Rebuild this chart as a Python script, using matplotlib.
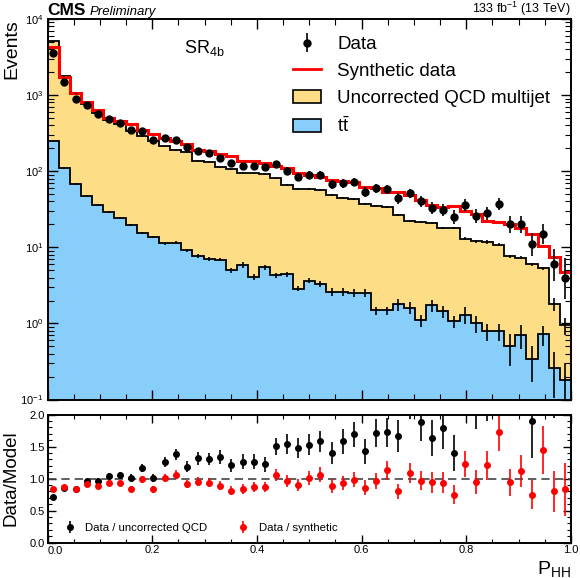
import numpy as np
import matplotlib
matplotlib.use("Agg")
import matplotlib.pyplot as plt
from matplotlib.ticker import LogLocator, MultipleLocator, NullFormatter
from matplotlib.lines import Line2D
from matplotlib.patches import Patch

plt.rcParams['font.family'] = ['Liberation Sans', 'DejaVu Sans']
plt.rcParams['mathtext.fontset'] = 'custom'
plt.rcParams['mathtext.rm'] = 'Liberation Sans'
plt.rcParams['mathtext.it'] = 'Liberation Sans:italic'
plt.rcParams['mathtext.bf'] = 'Liberation Sans:bold'

# 47 uniform bins in P_HH
n_bins = 47
edges = np.linspace(0.0, 1.0, n_bins + 1)
centers = 0.5 * (edges[:-1] + edges[1:])

# events per bin
data = [3600, 1483, 885, 738, 567, 489, 433, 347, 340, 257,
        272, 261, 207, 185, 176, 150, 129, 118, 118, 112,
        124, 102, 84, 90, 90, 67, 69, 72, 53, 60,
        58, 44, 51, 40, 33, 31, 25, 36, 26, 28,
        37, 20, 20, 11, 15, 6, 4]
synthetic = [4350, 1725, 1060, 805, 630, 505, 460, 412, 352, 307,
             270, 252, 227, 192, 184, 167, 160, 138, 136, 130,
             116, 110, 94, 89, 85, 76, 74.5, 73, 62.5, 61,
             53, 53, 48.5, 42, 36, 34, 34.5, 30, 27.8, 22.5,
             21.5, 20.5, 18.2, 15.1, 10.5, 7.4, 4.8]
# top of the stack: uncorrected QCD multijet + ttbar
uncorr_total = [5100, 1760, 1053, 770, 586, 468, 417, 337, 288, 248,
                212, 189, 177, 138, 134, 112, 106, 95, 94, 92,
                81, 66, 58, 59, 56, 48.5, 44, 43.5, 37.6, 34.5,
                34, 26.3, 22.5, 21.5, 20.8, 17.7, 18, 13, 12, 11.8,
                10.8, 7.6, 7.3, 6.0, 5.3, 1.8, 0.95]
ttbar = [248, 110, 67, 47, 36.5, 29.5, 24.4, 19.5, 15.6, 13.7,
         11.3, 11.5, 9.1, 7.7, 7.0, 6.9, 5.0, 5.9, 4.07, 5.5,
         4.3, 4.45, 2.86, 3.65, 3.3, 2.57, 2.57, 2.5, 2.5, 1.48,
         1.48, 1.8, 1.6, 1.1, 1.73, 1.45, 1.07, 1.3, 1.0, 0.79,
         0.79, 0.5, 0.71, 0.34, 0.72, 0.26, 0.18]
ttbar_relerr = [0.03] * 10 + [0.05] * 6 + [0.08] * 9 + [0.12] * 6 + [0.18] * 6 \
    + [0.25] * 4 + [0.45, 0.35, 0.5, 0.3, 0.6, 0.7]
total_relerr = [0.015] * 21 + [0.03] * 16 + [0.05] * 8 + [0.2, 0.25]

# ratio panel
ratio_uncorr = [0.715, 0.85, 0.84, 0.966, 0.966, 1.044, 1.055, 1.013, 1.164, 1.003,
                1.264, 1.379, 1.19, 1.316, 1.305, 1.337, 1.206, 1.264, 1.264, 1.222,
                1.504, 1.54, 1.478, 1.53, 1.582, 1.40, 1.582, 1.692, 1.426, 1.713,
                1.723, 1.66, 2.25, 1.88, 1.634, 1.79, 1.40, 2.8, 2.2, 2.35,
                3.4, 2.6, 2.7, 1.895, 2.8, 3.3, 4.2]
ratio_synth = [0.84, 0.867, 0.84, 0.919, 0.882, 0.94, 0.93, 0.846, 0.992, 0.835,
               1.008, 1.065, 0.919, 0.95, 0.935, 0.893, 0.815, 0.846, 0.867, 0.867,
               1.055, 0.966, 0.903, 1.008, 1.065, 0.888, 0.93, 0.982, 0.856, 0.971,
               1.133, 0.80, 1.086, 0.971, 0.945, 0.94, 0.747, 1.227, 0.945, 1.206,
               1.723, 0.945, 1.117, 0.747, 1.452, 0.80, 0.835]

data = np.array(data, dtype=float)
ttbar = np.array(ttbar)
uncorr_total = np.array(uncorr_total)
ttbar_relerr = np.array(ttbar_relerr)
total_relerr = np.array(total_relerr)
ratio_uncorr = np.array(ratio_uncorr)
ratio_synth = np.array(ratio_synth)

# Poisson (Garwood-like) intervals for data
lo = data * (1 - 1 / (9 * data) - 1 / (3 * np.sqrt(data))) ** 3
hi = (data + 1) * (1 - 1 / (9 * (data + 1)) + 1 / (3 * np.sqrt(data + 1))) ** 3
data_err = [data - lo, hi - data]

yellow = '#FDDD85'
blue = '#87CEFA'

fig = plt.figure(figsize=(5.8, 5.78), dpi=100)
ax = fig.add_axes([0.0822, 0.3088, 0.9022, 0.6583])
rax = fig.add_axes([0.0822, 0.0611, 0.9022, 0.2215])

# stacked histograms
ax.stairs(uncorr_total, edges, baseline=ttbar, fill=True, color=yellow, lw=0)
ax.stairs(ttbar, edges, baseline=1e-3, fill=True, color=blue, lw=0)
ax.stairs(uncorr_total, edges, baseline=None, color='k', lw=1.3)
ax.stairs(ttbar, edges, baseline=None, color='k', lw=1.3)
ax.vlines(centers, uncorr_total * (1 - total_relerr), uncorr_total * (1 + total_relerr),
          color='k', lw=1.2)
ax.vlines(centers, ttbar * (1 - ttbar_relerr), ttbar * (1 + ttbar_relerr), color='k', lw=1.2)
ax.stairs(synthetic, edges, baseline=None, color='red', lw=2.2)
h_data = ax.errorbar(centers, data, yerr=data_err, fmt='o', color='k', ms=5, lw=1.2,
                     capsize=0)

ax.set_yscale('log')
ax.set_xlim(0, 1)
ax.set_ylim(0.1, 1e4)
ax.yaxis.set_major_locator(LogLocator(base=10, numticks=10))
ax.yaxis.set_minor_locator(LogLocator(base=10, subs=np.arange(2, 10), numticks=20))
ax.yaxis.set_minor_formatter(NullFormatter())
ax.xaxis.set_major_locator(MultipleLocator(0.2))
ax.xaxis.set_minor_locator(MultipleLocator(0.05))
ax.tick_params(labelbottom=False)
ax.set_ylabel('Events', fontsize=14, loc='top')
ax.yaxis.set_label_coords(-0.053, 1.0)

ax.text(0.26, 0.925, r'SR$_{\mathrm{4b}}$', transform=ax.transAxes, fontsize=13,
        ha='left', va='center')

handles = [h_data,
           Line2D([], [], color='red', lw=2),
           Patch(facecolor=yellow, edgecolor='k', lw=1.2),
           Patch(facecolor=blue, edgecolor='k', lw=1.2)]
labels = ['Data', 'Synthetic data', 'Uncorrected QCD multijet', r'$\mathrm{t\bar{t}}$']
ax.legend(handles, labels, loc='upper left', bbox_to_anchor=(0.455, 0.975), frameon=False,
          fontsize=13.5, handlelength=1.5, handleheight=0.7, handletextpad=0.85,
          labelspacing=0.52, borderaxespad=0)

# ratio panel
rax.axhline(1.0, color='#444444', lw=1.2, ls=(0, (5, 3)))
r_err_u = ratio_uncorr / np.sqrt(data)
r_err_s = ratio_synth / np.sqrt(data)
h_u = rax.errorbar(centers, ratio_uncorr, yerr=r_err_u, fmt='o', color='k', ms=4, lw=1.2,
                   capsize=0)
h_s = rax.errorbar(centers, ratio_synth, yerr=r_err_s, fmt='o', color='red', ms=4, lw=1.2,
                   capsize=0)
rax.set_xlim(0, 1)
rax.set_ylim(0, 2)
rax.xaxis.set_major_locator(MultipleLocator(0.2))
rax.xaxis.set_minor_locator(MultipleLocator(0.05))
rax.yaxis.set_major_locator(MultipleLocator(0.5))
rax.yaxis.set_minor_locator(MultipleLocator(0.1))
# the "0.0" at x = 0 is placed by hand (left-aligned) so it clears the y label "0.0"
rax.xaxis.set_major_formatter(plt.FuncFormatter(lambda v, p: '' if abs(v) < 1e-9 else f'{v:.1f}'))
rax.yaxis.set_major_formatter(plt.FuncFormatter(lambda v, p: f'{v:.1f}'))
rax.text(0.0, -0.022, '0.0', transform=rax.transAxes, ha='left', va='top', fontsize=8)
rax.set_ylabel('Data/Model', fontsize=13.5)
rax.yaxis.set_label_coords(-0.053, 0.5)
rax.set_xlabel(r'P$_{\mathrm{HH}}$', fontsize=14, loc='right')
rax.xaxis.set_label_coords(1.0, -0.13)
rax.legend([h_u, h_s], ['Data / uncorrected QCD', 'Data / synthetic'], loc='lower left',
           bbox_to_anchor=(0.02, 0.04), ncol=2, frameon=False, fontsize=8.2,
           handlelength=1.2, handletextpad=0.8, columnspacing=2.5, borderaxespad=0)

for a in (ax, rax):
    a.tick_params(which='both', direction='in', top=True, right=True, labelsize=8)
    for s in a.spines.values():
        s.set_linewidth(1.4)
ax.tick_params(which='major', length=7, width=1)
ax.tick_params(which='minor', length=4, width=0.8)
ax.tick_params(axis='y', pad=3)
rax.tick_params(which='major', length=6, width=1, pad=2)
rax.tick_params(which='minor', length=3, width=0.8)

fig.text(47 / 580, 1 - 15 / 578, 'CMS', fontsize=12.5, weight='bold', va='baseline')
fig.text(90 / 580, 1 - 15 / 578, 'Preliminary', fontsize=9.5, style='italic',
         va='baseline')
fig.text(571 / 580, 1 - 13 / 578, r'133 fb$^{-1}$ (13 TeV)', fontsize=9, ha='right',
         va='baseline')

fig.savefig('out.png', dpi=100)
